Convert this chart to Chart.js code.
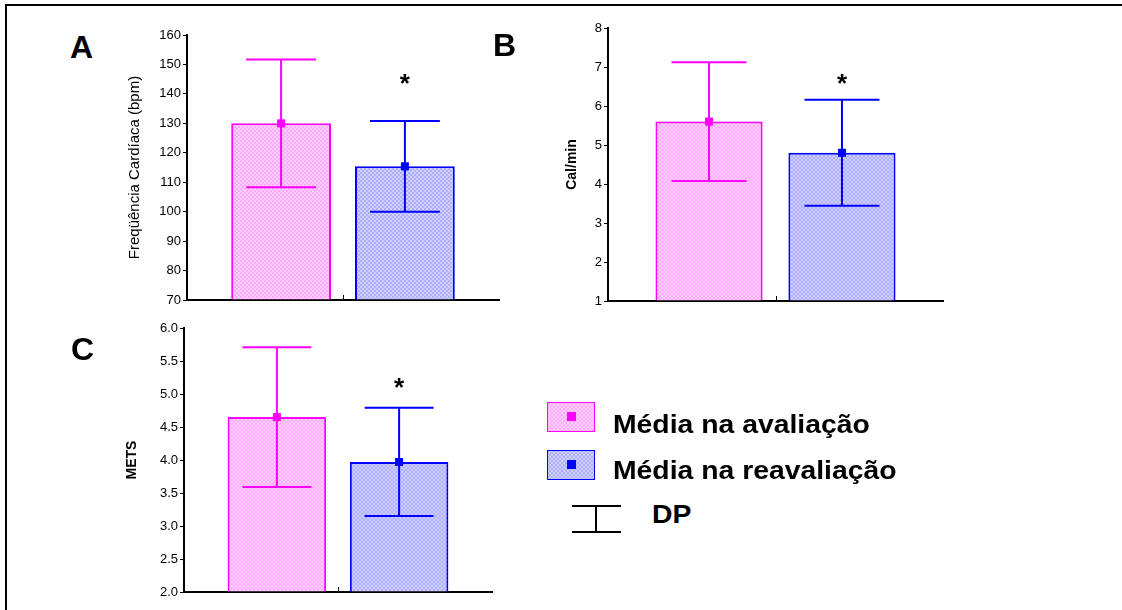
<!DOCTYPE html>
<html>
<head>
<meta charset="utf-8">
<script src="https://cdn.jsdelivr.net/npm/chart.js@4"></script>
<style>
  body { margin: 0; background: #fff; width: 1122px; height: 610px; overflow: hidden; position: relative; font-family: "Liberation Sans", Arial, sans-serif; }
  .frame { position: absolute; left: 5px; top: 4px; width: 1130px; height: 620px; border-left: 2px solid #000; border-top: 2px solid #000; }
  canvas { position: absolute; }
  .letter { position: absolute; font-size: 32px; line-height: 32px; font-weight: bold; }
  .leg { position: absolute; font-size: 26px; line-height: 26px; font-weight: bold; transform: scaleX(1.09); transform-origin: left top; white-space: nowrap; }
</style>
</head>
<body>
<div class="frame"></div>
<canvas id="chartA"></canvas>
<canvas id="chartB"></canvas>
<canvas id="chartC"></canvas>
<canvas id="swatches" width="90" height="145" style="left:540px;top:395px"></canvas>
<div class="letter" style="left:70px;top:31px">A</div>
<div class="letter" style="left:493px;top:29px">B</div>
<div class="letter" style="left:71px;top:333px">C</div>
<div class="leg" style="left:613px;top:411px">Média na avaliação</div>
<div class="leg" style="left:613px;top:457px">Média na reavaliação</div>
<div class="leg" style="left:652px;top:501px">DP</div>
<script>
// data
const groups = ["Média na avaliação", "Média na reavaliação"];
const positions = [1, 2];

const fcMean = [130, 115.4];
const fcSd = [21.7, 15.4];
const fcRange = [70, 160];
const fcStep = 10;
const fcStar = 144.4;

const calMean = [5.6, 4.8];
const calSd = [1.52, 1.36];
const calRange = [1, 8];
const calStep = 1;
const calStar = 6.64;

const metsMean = [4.65, 3.97];
const metsSd = [1.06, 0.82];
const metsRange = [2, 6];
const metsStep = 0.5;
const metsStar = 5.14;

const colors = ["#ff00ff", "#0000ff"];

Chart.defaults.font.family = "'Liberation Sans', Arial, sans-serif";
Chart.defaults.color = "#000";

// fine lattice fill like the original
function makePattern(base, dot) {
  const c = document.createElement("canvas");
  c.width = 4;
  c.height = 4;
  const g = c.getContext("2d");
  g.fillStyle = base;
  g.fillRect(0, 0, 4, 4);
  g.fillStyle = dot;
  g.fillRect(1, 0, 2, 1);
  g.fillRect(0, 1, 1, 2);
  g.fillRect(3, 1, 1, 2);
  g.fillRect(1, 3, 2, 1);
  return g.createPattern(c, "repeat");
}
const fills = [makePattern("#ffd0ff", "#ffaaff"), makePattern("#d0d0ff", "#aeaeff")];

// error bars, mean marker, asterisk and the middle tick
const errorBars = {
  id: "errorBars",
  afterDatasetsDraw(chart, args, opts) {
    const ctx = chart.ctx;
    const y = chart.scales.y;
    const x = chart.scales.x;
    const ds = chart.data.datasets[0];
    const meta = chart.getDatasetMeta(0);
    ctx.save();
    meta.data.forEach((bar, i) => {
      const m = ds.data[i].y;
      const top = y.getPixelForValue(m + opts.sd[i]);
      const bot = y.getPixelForValue(m - opts.sd[i]);
      const half = bar.width * 0.35;
      ctx.strokeStyle = colors[i];
      ctx.fillStyle = colors[i];
      ctx.lineWidth = 2;
      ctx.beginPath();
      ctx.moveTo(bar.x, top);
      ctx.lineTo(bar.x, bot);
      ctx.moveTo(bar.x - half, top);
      ctx.lineTo(bar.x + half, top);
      ctx.moveTo(bar.x - half, bot);
      ctx.lineTo(bar.x + half, bot);
      ctx.stroke();
      ctx.fillRect(bar.x - 4, bar.y - 4, 8, 8);
    });
    // asterisk over the second bar
    const size = 26;
    ctx.fillStyle = "#000";
    ctx.font = "bold " + size + "px 'Liberation Sans', Arial, sans-serif";
    ctx.textAlign = "center";
    ctx.textBaseline = "alphabetic";
    ctx.fillText("*", meta.data[1].x, y.getPixelForValue(opts.star) + size * 0.42);
    // small tick between the bars
    const mx = Math.round(x.getPixelForValue((positions[0] + positions[1]) / 2)) + 0.5;
    const b = chart.chartArea.bottom;
    ctx.strokeStyle = "#000";
    ctx.lineWidth = 1;
    ctx.beginPath();
    ctx.moveTo(mx, b);
    ctx.lineTo(mx, b - 5);
    ctx.stroke();
    ctx.restore();
  }
};

function panel(id, box, mean, sd, range, step, star, title, titleFont, titleCenter, decimals) {
  const cv = document.getElementById(id);
  const left = box.l - 90;
  const top = box.t - 12;
  cv.width = box.r + 10 - left;
  cv.height = box.b + 10 - top;
  cv.style.left = left + "px";
  cv.style.top = top + "px";
  const lh = titleFont.size * 1.2;

  return new Chart(cv, {
    type: "bar",
    data: {
      labels: groups,
      datasets: [
        {
          label: "media",
          data: positions.map((p, i) => ({ x: p, y: mean[i] })),
          backgroundColor: fills,
          borderColor: colors,
          borderWidth: 2,
          base: range[0],
          categoryPercentage: 1,
          barPercentage: 0.806,
        },
      ],
    },
    options: {
      responsive: false,
      animation: false,
      devicePixelRatio: 1,
      events: [],
      layout: { padding: { top: 12, right: 10, left: 0, bottom: 0 } },
      plugins: {
        legend: { display: false },
        tooltip: { enabled: false },
        errorBars: { sd: sd, star: star },
      },
      scales: {
        x: {
          type: "linear",
          offset: false,
          min: 0.24,
          max: 2.76,
          ticks: { display: false },
          grid: { display: false, offset: false },
          border: { color: "#000", width: 2 },
          afterBuildTicks: (s) => { s.ticks = []; },
          afterFit: (s) => { s.height = 10; },
        },
        y: {
          min: range[0],
          max: range[1],
          ticks: {
            stepSize: step,
            padding: 2,
            font: { size: 13 },
            callback: (v) => v.toFixed(decimals),
          },
          grid: { drawOnChartArea: false, color: "#000", tickLength: 4, lineWidth: 1 },
          border: { color: "#000", width: 2 },
          title: {
            display: true,
            text: title,
            font: titleFont,
            padding: { top: titleCenter - lh / 2, bottom: 0 },
          },
          afterFit: (s) => { s.width = 90; },
        },
      },
    },
    plugins: [errorBars],
  });
}

panel("chartA", { l: 187, t: 35, r: 499, b: 300 }, fcMean, fcSd, fcRange, fcStep, fcStar,
  "Freqüência Cardíaca (bpm)", { size: 15, weight: "normal" }, 38, 0);
panel("chartB", { l: 608, t: 28, r: 943, b: 301 }, calMean, calSd, calRange, calStep, calStar,
  "Cal/min", { size: 14, weight: "bold" }, 54, 0);
panel("chartC", { l: 184, t: 328, r: 492, b: 592 }, metsMean, metsSd, metsRange, metsStep, metsStar,
  "METS", { size: 14, weight: "bold" }, 38, 1);

// legend swatches and the DP symbol
const sw = document.getElementById("swatches").getContext("2d");
[7, 55].forEach((yy, i) => {
  sw.fillStyle = fills[i];
  sw.fillRect(7, yy, 48, 30);
  sw.strokeStyle = colors[i];
  sw.lineWidth = 1;
  sw.strokeRect(7.5, yy + 0.5, 47, 29);
  sw.fillStyle = colors[i];
  sw.fillRect(27, yy + 10, 9, 9);
});
sw.strokeStyle = "#000";
sw.lineWidth = 2;
sw.beginPath();
sw.moveTo(32, 111);
sw.lineTo(81, 111);
sw.moveTo(56, 111);
sw.lineTo(56, 137);
sw.moveTo(32, 137);
sw.lineTo(81, 137);
sw.stroke();
</script>
</body>
</html>
